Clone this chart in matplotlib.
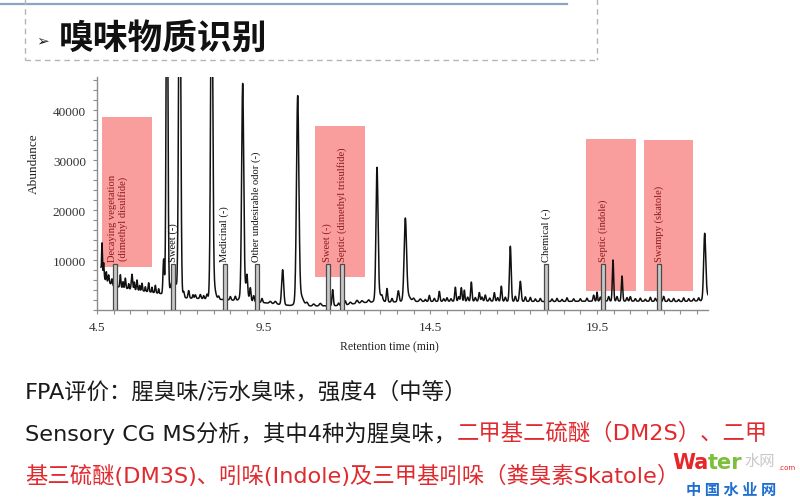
import numpy as np
import matplotlib
matplotlib.use("Agg")
import matplotlib.pyplot as plt
from matplotlib.patches import Rectangle
from matplotlib.lines import Line2D
from matplotlib.ticker import FixedLocator, MultipleLocator

# ---- chromatogram data -------------------------------------------------
# baseline drift (retention time in min, abundance)
baseline_t = [4.62, 4.75, 5.0, 5.5, 6.0, 6.4, 7.2, 8.0, 9.0, 9.6, 10.3,
              11.0, 11.8, 12.5, 14.0, 16.0, 18.0, 20.0, 22.0, 22.83]
baseline_y = [8500, 6000, 4800, 4200, 3700, 3300, 2400, 2200, 1800, 1400,
              900, 800, 900, 1500, 1700, 1800, 1700, 1800, 1700, 1900]

# peak table: retention time (min), height above baseline, width (min)
peak_t = [4.65, 4.70, 4.78, 4.85, 4.95, 5.08, 5.20, 5.28, 5.35, 5.45, 5.55,
          5.62, 5.70, 5.78, 5.85, 5.95, 6.05, 6.15, 6.25, 6.35, 6.50,
          6.60, 6.80, 6.98, 7.10, 7.25, 7.38, 7.45, 7.60, 7.70, 7.80, 7.94,
          7.98, 8.15, 8.33, 8.50, 8.65, 8.87, 8.92, 9.00, 9.10, 9.20,
          9.45, 9.70, 9.85, 10.07, 10.52, 10.58, 10.80, 11.00, 11.20,
          11.57, 11.75, 11.95, 12.10, 12.30, 12.45, 12.65, 12.90, 12.95,
          13.05, 13.20, 13.35, 13.54, 13.75, 13.80, 14.00, 14.20, 14.35,
          14.47, 14.62, 14.77, 14.90, 15.00, 15.12, 15.25, 15.35, 15.43,
          15.52, 15.62, 15.73, 15.85, 15.97, 16.05, 16.15, 16.28, 16.42,
          16.52, 16.63, 16.75, 16.90, 17.05, 17.20, 17.35, 17.50, 17.65,
          17.80, 17.97, 18.15, 18.30, 18.45, 18.60, 18.80, 19.00, 19.20,
          19.40, 19.50, 19.60, 19.68, 19.85, 19.98, 20.10, 20.25, 20.40,
          20.50, 20.65, 20.80, 20.95, 21.10, 21.25, 21.36, 21.50, 21.65,
          21.80, 21.95, 22.10, 22.25, 22.40, 22.55, 22.73, 22.78]
peak_h = [5500, 2500, 1800, 1500, 1200, 1400, 2500, 1200, 2000, 1000, 3000,
          1500, 2000, 1000, 1500, 900, 1800, 1000, 1500, 900, 7000,
          80000, 3500, 80000, 1200, 1500, 700, 700, 800, 600, 900, 70000,
          3500, 600, 1800, 700, 800, 41000, 3000, 3500, 2500, 1200,
          800, 400, 500, 7000, 40000, 2500, 600, 400, 500,
          3200, 500, 800, 400, 600, 400, 500, 25500, 1800,
          600, 2700, 700, 2200, 15500, 1500, 600, 500, 400,
          1200, 600, 2000, 500, 700, 500, 2800, 900, 2700,
          2200, 800, 3800, 700, 1700, 800, 1200, 600, 1700,
          700, 3000, 800, 11000, 1000, 4000, 900, 800, 500,
          600, 1800, 500, 600, 400, 700, 500, 500, 600,
          1200, 1800, 800, 2000, 900, 8200, 900, 5000, 700,
          900, 500, 600, 400, 800, 600, 2200, 1000, 500,
          600, 400, 700, 500, 500, 600, 12400, 1500]
peak_w = [0.010, 0.012, 0.012, 0.015, 0.015, 0.012, 0.015, 0.012, 0.015, 0.012, 0.020,
          0.012, 0.015, 0.012, 0.015, 0.012, 0.015, 0.012, 0.015, 0.012, 0.020,
          0.025, 0.080, 0.030, 0.020, 0.020, 0.015, 0.020, 0.020, 0.015, 0.020, 0.030,
          0.060, 0.020, 0.015, 0.020, 0.020, 0.030, 0.080, 0.020, 0.020, 0.020,
          0.020, 0.030, 0.030, 0.030, 0.035, 0.090, 0.030, 0.030, 0.030,
          0.020, 0.020, 0.020, 0.030, 0.030, 0.030, 0.030, 0.030, 0.080,
          0.020, 0.020, 0.020, 0.025, 0.035, 0.080, 0.030, 0.030, 0.020,
          0.020, 0.020, 0.020, 0.020, 0.020, 0.020, 0.020, 0.020, 0.020,
          0.015, 0.020, 0.020, 0.020, 0.020, 0.020, 0.020, 0.020, 0.020,
          0.020, 0.020, 0.020, 0.025, 0.020, 0.025, 0.020, 0.020, 0.020,
          0.020, 0.015, 0.020, 0.020, 0.020, 0.020, 0.020, 0.020, 0.020,
          0.020, 0.015, 0.020, 0.015, 0.020, 0.020, 0.020, 0.020, 0.020,
          0.020, 0.020, 0.020, 0.020, 0.020, 0.020, 0.020, 0.020, 0.020,
          0.020, 0.020, 0.020, 0.020, 0.020, 0.020, 0.030, 0.060]

# sniffing-port odour events
odor_t = [5.04, 6.78, 8.33, 9.29, 11.42, 11.86, 17.97, 19.68, 21.36]
odor_level = [9200] * 9
odor_label = ["Decaying vegetation\n(dimethyl disulfide)", "Sweet (-)",
              "Medicinal (-)", "Other undesirable odor (-)", "Sweet (-)",
              "Septic (dimethyl trisulfide)", "Chemical (-)",
              "Septic (indole)", "Swampy (skatole)"]
odor_highlight = [True, False, False, False, True, True, False, True, True]

# highlighted (fishy / septic) regions: t0, t1, low, high
box_t0 = [4.65, 11.04, 19.17, 20.91]
box_t1 = [6.15, 12.54, 20.67, 22.38]
box_low = [8600, 6600, 3800, 3800]
box_high = [38600, 36800, 34200, 34000]

x_ticks = [4.5, 9.5, 14.5, 19.5]
y_ticks = [10000, 20000, 30000, 40000]

# ---- figure ------------------------------------------------------------
W, H = 800, 502
fig = plt.figure(figsize=(W / 100, H / 100), dpi=100)
fig.patch.set_facecolor("white")

def px(x, y):
    return x / W, 1 - y / H

# slide decorations
fig.add_artist(Line2D([0, 567 / W], [1 - 5 / H] * 2, color="#8aa4c4", lw=1.6))
dash = dict(color="#b5b5b5", lw=1.0, ls=(0, (4, 3)))
fig.add_artist(Line2D([25 / W] * 2, [1, 1 - 61 / H], **dash))
fig.add_artist(Line2D([25 / W, 597 / W], [1 - 61 / H] * 2, **dash))
fig.add_artist(Line2D([597 / W] * 2, [1, 1 - 61 / H], **dash))

fig.text(*px(36, 41), "\u27a2", family="DejaVu Sans", fontsize=11,
         ha="left", va="center", color="#222")
fig.text(*px(59, 38), "嗅味物质识别", family=["Noto Sans CJK SC"],
         fontweight="bold", fontsize=25, ha="left", va="center", color="#111")

# chromatogram axes
ax = fig.add_axes([97 / W, 1 - 311 / H, (708 - 97) / W, (311 - 78) / H])
ax.set_xlim(4.5, 22.83)
ax.set_ylim(0, 46600)

t = np.arange(baseline_t[0], baseline_t[-1], 0.003)
signal = np.interp(t, baseline_t, baseline_y)
for pt, ph, pw in zip(peak_t, peak_h, peak_w):
    signal = signal + ph * np.exp(-0.5 * ((t - pt) / pw) ** 2)

for t0, t1, lo, hi in zip(box_t0, box_t1, box_low, box_high):
    ax.add_patch(Rectangle((t0, lo), t1 - t0, hi - lo, facecolor="#f99d9d",
                           edgecolor="none", zorder=1))

ax.plot(t, signal, color="#111111", lw=1.1, zorder=3)

bar_w = 0.12
for ot, lvl, lab, hl in zip(odor_t, odor_level, odor_label, odor_highlight):
    ax.add_patch(Rectangle((ot - bar_w / 2, 0), bar_w, lvl, facecolor="#c8c8c8",
                           edgecolor="#4a4a4a", lw=0.9, zorder=4))
    ax.text(ot + (0.08 if "\n" in lab else 0), lvl + 500, lab, rotation=90,
            ha="center", va="bottom", family="Liberation Serif", fontsize=7.6,
            color="#8b1a1a" if hl else "#111111", zorder=5, linespacing=1.1)

for s in ("top", "right"):
    ax.spines[s].set_visible(False)
for s in ("left", "bottom"):
    ax.spines[s].set_color("#8c8c8c")
    ax.spines[s].set_linewidth(1.0)

ax.xaxis.set_major_locator(FixedLocator(x_ticks))
ax.xaxis.set_minor_locator(FixedLocator(np.arange(5.0, 22.9, 0.5)))
ax.set_xticklabels([f"{v:.1f}" for v in x_ticks])
ax.yaxis.set_major_locator(FixedLocator(y_ticks))
ax.yaxis.set_minor_locator(MultipleLocator(2000))
ax.set_yticklabels([str(v) for v in y_ticks])
ax.tick_params(which="both", direction="out", length=3, width=0.8,
               color="#8c8c8c", labelsize=9.5, labelcolor="#333333", pad=5)
for lab in ax.get_xticklabels() + ax.get_yticklabels():
    lab.set_family("Liberation Serif")

fig.text(*px(34, 164), "Abundance", rotation=90, ha="center", va="center",
         family="Liberation Serif", fontsize=9.5, color="#222")
fig.text(*px(389, 347), "Retention time (min)", ha="center", va="center",
         family="Liberation Serif", fontsize=8.5, color="#222")

# ---- slide text below the chart ---------------------------------------
RED = "#e02a2e"
fig.canvas.draw()
renderer = fig.canvas.get_renderer()

def run(x_px, y_px, pieces, **style):
    x = x_px
    for txt, col in pieces:
        tx = fig.text(x / W, 1 - y_px / H, txt, color=col, ha="left",
                      va="center", **style)
        x += tx.get_window_extent(renderer=renderer).width
    return x

body = dict(family=["DejaVu Sans", "Noto Sans CJK SC"], fontsize=16.1)
run(25, 392, [("FPA评价：腥臭味/污水臭味，强度4（中等）", "#1a1a1a")], **body)
run(25, 433, [("Sensory CG MS分析，其中4种为腥臭味，", "#1a1a1a"),
              ("二甲基二硫醚（DM2S）、二甲", RED)], **body)
run(25, 476, [("基三硫醚(DM3S)、吲哚(Indole)及三甲基吲哚（粪臭素Skatole）", RED)],
    **body)

# site watermark
logo = dict(family="DejaVu Sans", fontweight="bold", fontsize=15)
x_end = run(672, 463, [("Wa", "#e8262a"), ("ter", "#7cbf3a")], **logo)
run(x_end + 2, 461, [("水网", "#c8c8c8")], family=["Noto Sans CJK SC"],
    fontsize=11)
fig.text(*px(778, 468), ".com", family="DejaVu Sans", fontsize=5,
         color="#e8262a", ha="left", va="center")
fig.text(*px(731, 490), "中 国 水 业 网", family=["Noto Sans CJK SC"],
         fontsize=11, fontweight="bold", color="#1e6fd0", ha="center", va="center")

fig.savefig("out.png", dpi=100)
